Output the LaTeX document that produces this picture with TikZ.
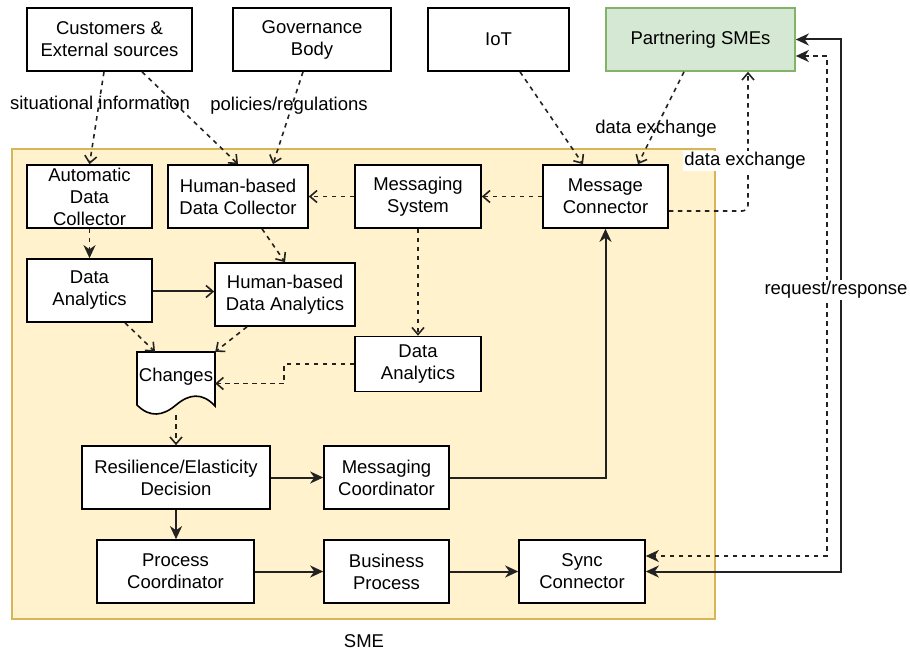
\documentclass[tikz,border=0pt]{standalone}
\usepackage{fontspec}
\setmainfont{Liberation Sans}
\usetikzlibrary{arrows.meta}
\definecolor{smefill}{HTML}{FFF2CC}
\definecolor{smedraw}{HTML}{D6B656}
\definecolor{gfill}{HTML}{D5E8D4}
\definecolor{gdraw}{HTML}{82B366}
\definecolor{lc}{HTML}{222222}
\begin{document}
\begin{tikzpicture}[x=1pt,y=-1pt,
  txt/.style={font=\fontsize{18.5}{22}\selectfont},
  box/.style={txt, draw=black, line width=1.6pt, fill=white, minimum height=63pt, inner sep=0pt, align=center},
  lbl/.style={txt, inner sep=1pt},
  conn/.style={draw=lc, line width=2pt},
  dconn/.style={draw=lc, line width=1.6pt},
  dashp/.style={dash pattern=on 4.5pt off 4.5pt},
  openhead/.style={-{Straight Barb[length=7pt,width=12pt,line width=1.6pt]}},
  fullhead/.style={-{Stealth[length=13pt,width=12pt,inset=4pt]}},
  dsh/.style={dconn, dashp, openhead},
  sol/.style={conn, fullhead},
]
\useasboundingbox (0,0) rectangle (910,652);

% container
\node[draw=smedraw, fill=smefill, line width=1.6pt, minimum width=703pt, minimum height=470pt, inner sep=0pt] (sme) at (363.5,384) {};
\node[lbl] (smelbl) at (364,641) {SME};

% outside boxes
\node[box, minimum width=165pt] (cust) at (109.5,39.5) {Customers \&\\External sources};
\node[box, minimum width=158pt] (gov) at (312,39.5) {Governance\\Body};
\node[box, minimum width=141pt] (iot) at (498.5,39.5) {IoT};
\node[box, minimum width=189pt, fill=gfill, draw=gdraw] (psme) at (700.5,39.5) {Partnering SMEs};

% inside boxes
\node[box, minimum width=125pt] (adc) at (89.5,196.5) {Automatic\\Data\\Collector};
\node[box, minimum width=140pt] (hdc) at (238,196.5) {Human-based\\Data Collector};
\node[box, minimum width=126pt] (msys) at (418,196.5) {Messaging\\System};
\node[box, minimum width=125pt] (mcon) at (605.5,196.5) {Message\\Connector};
\node[box, minimum width=125pt] (da1) at (89.5,290.5) {Data\\Analytics};
\node[box, minimum width=140pt] (hda) at (285,294.5) {Human-based\\Data Analytics};
\node[box, minimum width=126pt, minimum height=55pt] (da2) at (418,364) {Data\\Analytics};
\node[box, minimum width=188pt] (res) at (176,477.5) {Resilience/Elasticity\\Decision};
\node[box, minimum width=125pt] (mcoord) at (386.5,477.5) {Messaging\\Coordinator};
\node[box, minimum width=157pt] (pc) at (175.5,571.5) {Process\\Coordinator};
\node[box, minimum width=125pt] (bp) at (386.5,571.5) {Business\\Process};
\node[box, minimum width=126pt] (sync) at (582,571.5) {Sync\\Connector};

% document shape "Changes"
\node[txt, minimum width=78pt, minimum height=63pt, inner sep=0pt] (chg) at (176,383.5) {};
\draw[draw=black, line width=1.6pt, fill=white]
  (137,352) -- (215,352) -- (215,406)
  .. controls (202,392) and (189,394) .. (176,405)
  .. controls (163,416) and (150,418) .. (137,405) -- cycle;
\node[txt, inner sep=0pt] (chgtxt) at (176,377) {Changes};

% connectors
\draw[dsh] ([xshift=-5.5pt]cust.south) -- (adc.north);
\draw[dsh] ([xshift=32.5pt]cust.south) -- (hdc.north);
\draw[dsh] ([xshift=-9pt]gov.south) -- ([xshift=35pt]hdc.north);
\draw[dsh] ([xshift=21.5pt]iot.south) -- ([xshift=-22.5pt]mcon.north);
\draw[dsh] ([xshift=-16.5pt]psme.south) -- ([xshift=32.5pt]mcon.north);
\draw[dsh, rounded corners=6pt] ([yshift=-14.5pt]mcon.east) -| ([xshift=47.5pt]psme.south);
\draw[dsh] (mcon.west) -- (msys.east);
\draw[dsh] (msys.west) -- (hdc.east);
\draw[dsh] (msys.south) -- (da2.north);
\draw[dconn, dashp, fullhead] (adc.south) -- (da1.north);
\draw[dsh] ([xshift=24pt]hdc.south) -- (hda.north);
\draw[conn, openhead] ([yshift=-1pt]da1.east) -- ([yshift=-1pt]hda.west |- da1.east);
\draw[dsh] ([xshift=35.5pt]da1.south) -- ([xshift=-21pt]chg.north);
\draw[dsh] ([xshift=-38pt]hda.south) -- (chg.north east);
\draw[dsh] (da2.west) -- ++(-70,0) |- (chg.east);
\draw[dsh] (chg.south) -- (res.north);
\draw[sol] (res.east) -- (mcoord.west);
\draw[sol] (res.south) -- ([xshift=0.5pt]pc.north);
\draw[sol] (mcoord.east) -| (mcon.south);
\draw[sol] (pc.east) -- (bp.west);
\draw[sol] (bp.east) -- (sync.west);
\draw[conn, {Stealth[length=13pt,width=12pt,inset=4pt]}-{Stealth[length=13pt,width=12pt,inset=4pt]}] (psme.east) -- ++(45,0) |- (sync.east);
\draw[dconn, dashp, {Stealth[length=13pt,width=12pt,inset=4pt]}-{Stealth[length=13pt,width=12pt,inset=4pt]}] ([yshift=-16.5pt]psme.east) -- ++(31,0) |- ([yshift=15.5pt]sync.east);

% labels
\node[lbl] (l1) at (100,103) {situational information};
\node[lbl] (l2) at (289,106) {policies/regulations};
\node[lbl] (l3) at (656,129) {data exchange};
\node[lbl, fill=white, inner sep=1pt] (l4) at (745,161) {data exchange};
\node[lbl, fill=white] (l5) at (836,290) {request/response};
\end{tikzpicture}
\end{document}
